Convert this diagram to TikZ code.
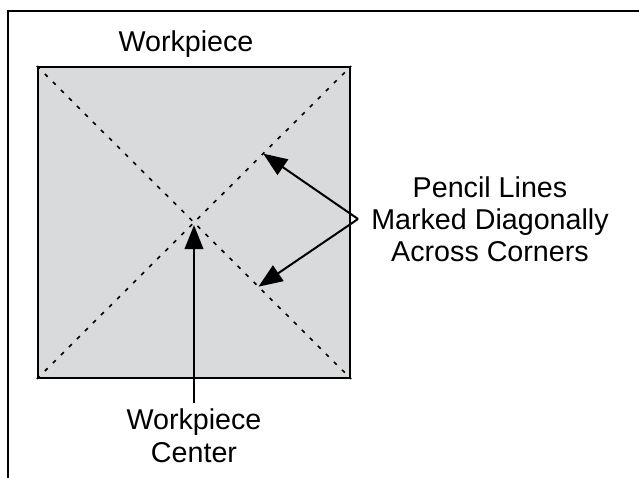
\documentclass[tikz,border=0pt]{standalone}
\usepackage{fontspec}
\setmainfont{Liberation Sans}
\usepackage{xcolor}
\usepackage{tikz}
\usetikzlibrary{arrows.meta,positioning,calc}
\definecolor{PieceGray}{HTML}{D9DADB}

\begin{document}
\begin{tikzpicture}[
  x=0.75pt, y=-0.75pt,
  label/.style={align=center,font=\fontsize{21.5}{24}\selectfont,inner sep=2pt},
  piecebox/.style={draw,line width=1.8pt,fill=PieceGray,minimum width=234pt,minimum height=233pt,inner sep=0pt},
  diag/.style={line width=1.2pt,dash pattern=on 3pt off 5.5pt},
  arrow/.style={-{Triangle[length=18pt,width=14pt]},line width=1.5pt}
]
  \useasboundingbox (0,0) rectangle (639,478);
  \draw[line width=1.8pt] (7,11) -- (639,11);
  \draw[line width=1.8pt] (8,11) -- (8,478);

  \node[piecebox] (piece) at (194,222.5) {};
  \draw[diag] (piece.north west) -- (piece.south east);
  \draw[diag] (piece.south west) -- (piece.north east);

  \node[label,anchor=base] (top) at (186,52) {Workpiece};
  \node[label] (pencil) at (490,219) {Pencil Lines\\Marked Diagonally\\Across Corners};
  \node[label,anchor=north,font=\fontsize{21.5}{25}\selectfont,inner sep=4pt] (center) at (194,403) {Workpiece\\Center};

  \coordinate (vtx) at (358,219);
  \coordinate (upper) at ($(piece.south west)!0.72!(piece.north east)$);
  \coordinate (lower) at ($(piece.north west)!0.705!(piece.south east)$);

  \draw[arrow] (center.north) -- ([yshift=-2pt]piece.center);
  \draw[arrow] (vtx) -- (upper);
  \draw[arrow] (vtx) -- (lower);
\end{tikzpicture}
\end{document}
